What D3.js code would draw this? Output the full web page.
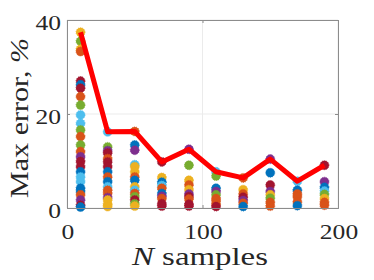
<!DOCTYPE html>
<html>
<head>
<meta charset="utf-8">
<script src="https://cdn.jsdelivr.net/npm/d3@7"></script>
<style>
  body { margin: 0; background: #fff; }
  text { font-family: "Liberation Serif", "DejaVu Serif", serif; fill: #262626; }
</style>
</head>
<body>
<div id="chart"></div>
<script>
// N samples (x) and max error line (y, %)
var nSamples = [10, 30, 50, 70, 90, 110, 130, 150, 170, 190];
var maxError = [37.4, 16.2, 16.3, 9.8, 12.5, 7.7, 6.4, 10.4, 5.7, 9.1];

// individual trial errors per N, with their colour index (MATLAB order)
var trialErrors = [
  [37.4, 35.5, 33.8, 33.3, 27.0, 26.2, 25.5, 23.7, 21.9, 19.8, 18.0, 16.6, 15.2, 13.4, 12.0, 10.9, 9.9, 8.8, 7.7, 6.6, 5.6, 4.2, 3.5, 2.8, 1.7, 0.6, 0.2],
  [16.2, 13.0, 12.2, 11.7, 10.5, 9.8, 8.8, 7.7, 6.6, 5.6, 4.5, 3.8, 3.1, 2.2, 1.7, 0.8, 0.3],
  [16.3, 13.4, 12.3, 9.2, 8.8, 7.7, 6.6, 5.9, 4.5, 3.8, 3.1, 2.4, 1.7, 0.9, 0.4],
  [9.8, 6.5, 5.5, 4.8, 4.2, 3.1, 2.5, 2.0, 0.9, 0.4],
  [12.5, 9.1, 5.9, 4.9, 3.9, 3.0, 2.4, 1.9, 0.8, 0.4],
  [7.7, 6.8, 4.2, 3.5, 2.8, 2.0, 1.5, 0.8, 0.3],
  [6.4, 3.9, 3.0, 2.3, 1.6, 1.0, 0.3],
  [10.4, 7.5, 4.9, 3.5, 2.8, 2.1, 1.2, 0.4],
  [5.7, 3.8, 3.0, 2.4, 1.3, 0.5],
  [9.1, 5.6, 4.4, 3.6, 2.9, 2.0, 1.2, 0.6]
];
var trialColors = [
  [2, 4, 2, 1, 6, 0, 6, 1, 4, 5, 5, 4, 1, 4, 1, 3, 6, 6, 0, 5, 5, 0, 0, 1, 3, 6, 0],
  [5, 4, 3, 6, 1, 6, 6, 0, 1, 0, 5, 1, 1, 3, 2, 2, 2],
  [1, 0, 3, 5, 2, 2, 1, 0, 2, 5, 1, 4, 6, 4, 2],
  [6, 2, 0, 5, 1, 0, 3, 1, 6, 6],
  [3, 4, 2, 1, 2, 3, 6, 1, 6, 6],
  [5, 4, 0, 3, 4, 1, 1, 1, 6],
  [1, 2, 1, 6, 3, 1, 0],
  [3, 0, 6, 3, 2, 4, 1, 1],
  [5, 0, 1, 1, 1, 0],
  [6, 3, 0, 5, 4, 2, 1, 1]
];
var palette = ["#0072BD", "#D95319", "#EDB120", "#7E2F8E", "#77AC30", "#4DBEEE", "#A2142F"];
var xTicks = [0, 100, 200];
var yTicks = [0, 20, 40];

var width = 374, height = 280;
var margin = {left: 67, right: 36, top: 20, bottom: 72};

var svg = d3.select("#chart").append("svg")
    .attr("width", width)
    .attr("height", height);

var x = d3.scaleLinear().domain([0, 200]).range([margin.left, width - margin.right]);
var y = d3.scaleLinear().domain([0, 40]).range([height - margin.bottom, margin.top]);

// grid
svg.append("g").selectAll("line.gx").data(xTicks).enter().append("line")
    .attr("x1", d => x(d)).attr("x2", d => x(d))
    .attr("y1", y(0)).attr("y2", y(40))
    .attr("stroke", "#ebebeb").attr("stroke-width", 1);
svg.append("g").selectAll("line.gy").data(yTicks).enter().append("line")
    .attr("x1", x(0)).attr("x2", x(200))
    .attr("y1", d => y(d)).attr("y2", d => y(d))
    .attr("stroke", "#ebebeb").attr("stroke-width", 1);

// scatter of trials
var pts = [];
trialErrors.forEach(function(col, i) {
  col.forEach(function(v, j) {
    pts.push({n: nSamples[i], e: v, c: palette[trialColors[i][j]]});
  });
});
svg.append("g").selectAll("circle").data(pts).enter().append("circle")
    .attr("cx", d => x(d.n))
    .attr("cy", d => y(d.e))
    .attr("r", 4.5)
    .attr("fill", d => d.c)
    .attr("stroke", d => d.c)
    .attr("stroke-width", 0.8)
    .attr("stroke-dasharray", "1,1");

// max error line
var line = d3.line().x((d, i) => x(nSamples[i])).y(d => y(d));
svg.append("path").datum(maxError)
    .attr("d", line)
    .attr("fill", "none")
    .attr("stroke", "#ff0000")
    .attr("stroke-width", 5)
    .attr("stroke-linejoin", "round");

// axes box (MATLAB style, inward ticks)
var axColor = "#8c8c8c";
var xb = d3.axisBottom(x).tickValues(xTicks).tickSize(-3).tickFormat("");
var xt = d3.axisTop(x).tickValues(xTicks).tickSize(-3).tickFormat("");
var yl = d3.axisLeft(y).tickValues(yTicks).tickSize(-3).tickFormat("");
var yr = d3.axisRight(y).tickValues(yTicks).tickSize(-3).tickFormat("");
svg.append("g").attr("transform", "translate(0," + y(0) + ")").call(xb);
svg.append("g").attr("transform", "translate(0," + y(40) + ")").call(xt);
svg.append("g").attr("transform", "translate(" + x(0) + ",0)").call(yl);
svg.append("g").attr("transform", "translate(" + x(200) + ",0)").call(yr);
svg.selectAll(".domain, .tick line").attr("stroke", axColor).attr("stroke-width", 1);

// the LaTeX font is wider than Times, stretch text a bit
function widen(sel, k) {
  sel.each(function() {
    var w = this.getComputedTextLength();
    d3.select(this).attr("textLength", w * k).attr("lengthAdjust", "spacingAndGlyphs");
  });
}

// tick labels
svg.append("g").selectAll("text").data(xTicks).enter().append("text")
    .attr("x", d => x(d) + 1)
    .attr("y", 239)
    .attr("text-anchor", "middle")
    .attr("font-size", 22)
    .text(d => d)
    .call(widen, 1.16);
svg.append("g").selectAll("text").data(yTicks).enter().append("text")
    .attr("x", x(0) - 6)
    .attr("y", d => y(d) + 10)
    .attr("text-anchor", "end")
    .attr("font-size", 22)
    .text(d => d)
    .call(widen, 1.16);

// axis labels
var xl = svg.append("text")
    .attr("x", 200)
    .attr("y", 265)
    .attr("text-anchor", "middle")
    .attr("font-size", 26);
xl.append("tspan").attr("font-style", "italic").text("N");
xl.append("tspan").text(" samples");
xl.attr("textLength", 136).attr("lengthAdjust", "spacingAndGlyphs");

var ylab = svg.append("text")
    .attr("transform", "translate(27.5,118) rotate(-90)")
    .attr("text-anchor", "middle")
    .attr("font-size", 26);
ylab.append("tspan").text("Max error, ");
ylab.append("tspan").attr("font-style", "italic").text("%");
ylab.attr("textLength", 160).attr("lengthAdjust", "spacingAndGlyphs");
</script>
</body>
</html>
